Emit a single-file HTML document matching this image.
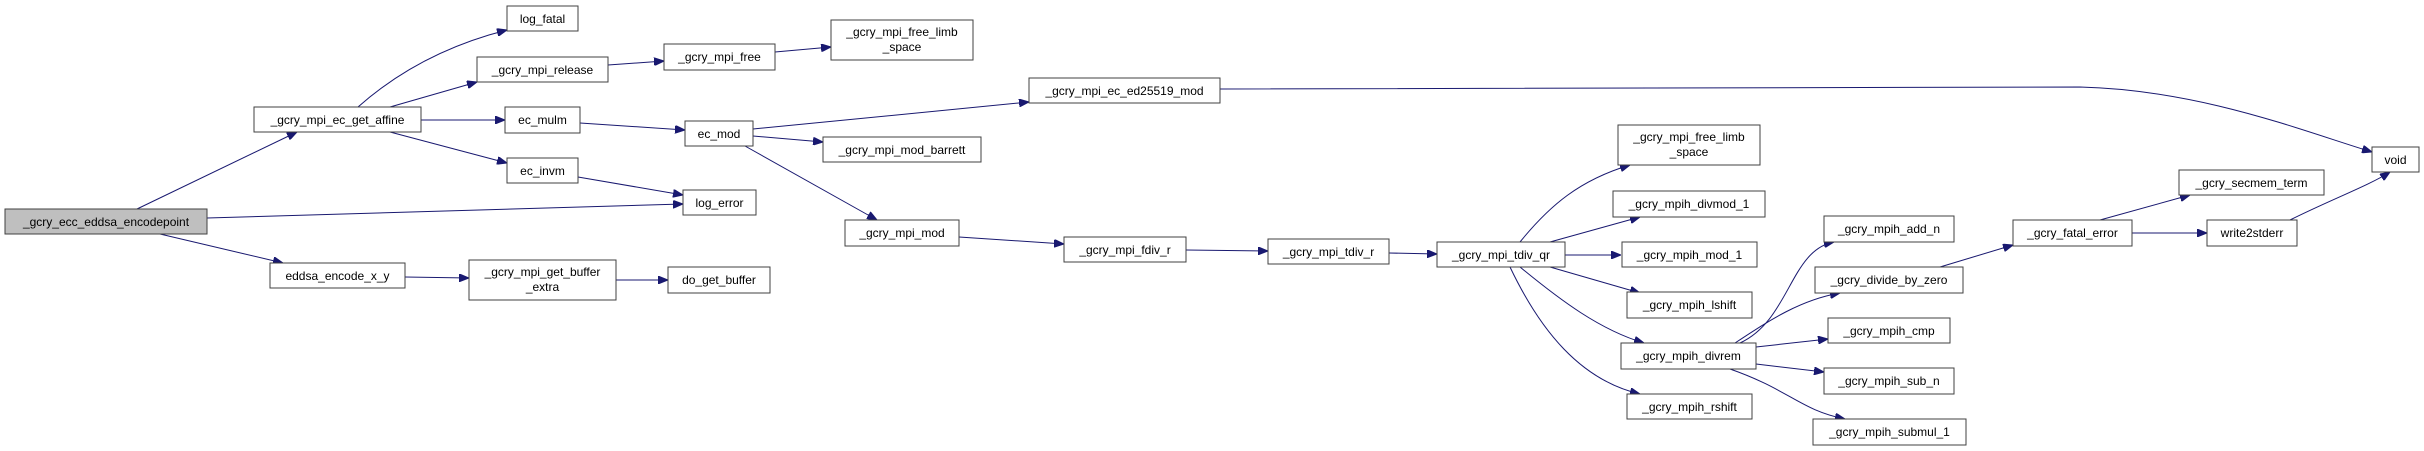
<!DOCTYPE html>
<html><head><meta charset="utf-8"><style>
html,body{margin:0;padding:0;background:#fff;width:2424px;height:451px;overflow:hidden}
svg text{font-family:"Liberation Sans",Helvetica,Arial,sans-serif;font-size:12px;fill:#000}
</style></head><body>
<svg width="2424" height="451" viewBox="0 0 2424 451" xmlns="http://www.w3.org/2000/svg">
<defs><marker id="a" viewBox="0 0 10 8" refX="10" refY="4" markerWidth="10" markerHeight="8" markerUnits="userSpaceOnUse" orient="auto"><path d="M0,0 L10,4 L0,8 z" fill="#191970" stroke="#191970"/></marker></defs>
<g fill="none" stroke="#191970" stroke-width="1" marker-end="url(#a)">
<path d="M137,209 L297,132"/>
<path d="M207,218 L683,204"/>
<path d="M160,234 L283,263"/>
<path d="M358,107 Q420,52 507,30"/>
<path d="M390,107 L477,82"/>
<path d="M421,120 L505,120"/>
<path d="M390,132 L507,163"/>
<path d="M578,177 L683,195"/>
<path d="M580,123 L685,130"/>
<path d="M608,65 L664,61"/>
<path d="M775,52 L831,47"/>
<path d="M753,129 L1029,102"/>
<path d="M753,136 L823,142"/>
<path d="M745,146 L877,220"/>
<path d="M959,237 L1064,244"/>
<path d="M1186,250 L1268,251"/>
<path d="M1389,253 L1437,254"/>
<path d="M405,277 L469,278"/>
<path d="M616,280 L668,280"/>
<path d="M1220,89 L2080,87 C2200,90 2300,130 2372,152"/>
<path d="M1520,242 C1550,205 1580,180 1630,165"/>
<path d="M1550,242 L1640,217"/>
<path d="M1565,255 L1621,255"/>
<path d="M1550,267 L1640,293"/>
<path d="M1520,267 C1560,300 1600,330 1644,343"/>
<path d="M1510,267 C1540,330 1580,380 1640,394"/>
<path d="M1740,343 C1790,320 1790,250 1834,242"/>
<path d="M1735,343 C1770,320 1800,300 1840,293"/>
<path d="M1756,347 L1828,339"/>
<path d="M1756,364 L1824,372"/>
<path d="M1730,369 C1790,390 1800,410 1845,419"/>
<path d="M1940,267 L2013,245"/>
<path d="M2100,220 L2190,195"/>
<path d="M2132,233 L2207,233"/>
<path d="M2290,220 C2330,200 2370,185 2390,172"/>
</g>
<g stroke="#404040" stroke-width="1" fill="#fff">
<rect x="5" y="209" width="202" height="25" fill="#bfbfbf"/>
<rect x="254" y="107" width="167" height="25"/>
<rect x="507" y="6" width="71" height="25"/>
<rect x="477" y="57" width="131" height="25"/>
<rect x="505" y="107" width="75" height="26"/>
<rect x="507" y="158" width="71" height="25"/>
<rect x="270" y="263" width="135" height="25"/>
<rect x="469" y="260" width="147" height="40"/>
<rect x="664" y="44" width="111" height="26"/>
<rect x="831" y="20" width="142" height="40"/>
<rect x="1029" y="78" width="191" height="25"/>
<rect x="685" y="121" width="68" height="25"/>
<rect x="823" y="137" width="158" height="25"/>
<rect x="683" y="190" width="73" height="25"/>
<rect x="845" y="220" width="114" height="26"/>
<rect x="668" y="267" width="102" height="26"/>
<rect x="1064" y="237" width="122" height="25"/>
<rect x="1268" y="239" width="121" height="25"/>
<rect x="1437" y="242" width="128" height="25"/>
<rect x="1618" y="125" width="142" height="40"/>
<rect x="1613" y="191" width="152" height="26"/>
<rect x="1622" y="242" width="135" height="25"/>
<rect x="1627" y="292" width="125" height="26"/>
<rect x="1621" y="343" width="135" height="26"/>
<rect x="1627" y="394" width="125" height="25"/>
<rect x="1824" y="216" width="130" height="26"/>
<rect x="1815" y="267" width="148" height="26"/>
<rect x="1828" y="318" width="122" height="25"/>
<rect x="1824" y="368" width="130" height="26"/>
<rect x="1813" y="419" width="153" height="26"/>
<rect x="2013" y="220" width="119" height="26"/>
<rect x="2179" y="170" width="145" height="25"/>
<rect x="2207" y="220" width="90" height="26"/>
<rect x="2372" y="147" width="47" height="25"/>
</g>
<g text-anchor="middle">
<text x="106" y="226">_gcry_ecc_eddsa_encodepoint</text>
<text x="337.5" y="124">_gcry_mpi_ec_get_affine</text>
<text x="542.5" y="23">log_fatal</text>
<text x="542.5" y="74">_gcry_mpi_release</text>
<text x="542.5" y="124">ec_mulm</text>
<text x="542.5" y="175">ec_invm</text>
<text x="337.5" y="280">eddsa_encode_x_y</text>
<text x="542.5" y="276">_gcry_mpi_get_buffer</text>
<text x="542.5" y="291">_extra</text>
<text x="719.5" y="61">_gcry_mpi_free</text>
<text x="902" y="36">_gcry_mpi_free_limb</text>
<text x="902" y="51">_space</text>
<text x="1124.5" y="95">_gcry_mpi_ec_ed25519_mod</text>
<text x="719" y="138">ec_mod</text>
<text x="902" y="154">_gcry_mpi_mod_barrett</text>
<text x="719.5" y="207">log_error</text>
<text x="902" y="237">_gcry_mpi_mod</text>
<text x="719" y="284">do_get_buffer</text>
<text x="1125" y="254">_gcry_mpi_fdiv_r</text>
<text x="1328.5" y="256">_gcry_mpi_tdiv_r</text>
<text x="1501" y="259">_gcry_mpi_tdiv_qr</text>
<text x="1689" y="141">_gcry_mpi_free_limb</text>
<text x="1689" y="156">_space</text>
<text x="1689" y="208">_gcry_mpih_divmod_1</text>
<text x="1689.5" y="259">_gcry_mpih_mod_1</text>
<text x="1689.5" y="309">_gcry_mpih_lshift</text>
<text x="1688.5" y="360">_gcry_mpih_divrem</text>
<text x="1689.5" y="411">_gcry_mpih_rshift</text>
<text x="1889" y="233">_gcry_mpih_add_n</text>
<text x="1889" y="284">_gcry_divide_by_zero</text>
<text x="1889" y="335">_gcry_mpih_cmp</text>
<text x="1889" y="385">_gcry_mpih_sub_n</text>
<text x="1889.5" y="436">_gcry_mpih_submul_1</text>
<text x="2072.5" y="237">_gcry_fatal_error</text>
<text x="2251.5" y="187">_gcry_secmem_term</text>
<text x="2252" y="237">write2stderr</text>
<text x="2395.5" y="164">void</text>
</g>
</svg>
</body></html>
